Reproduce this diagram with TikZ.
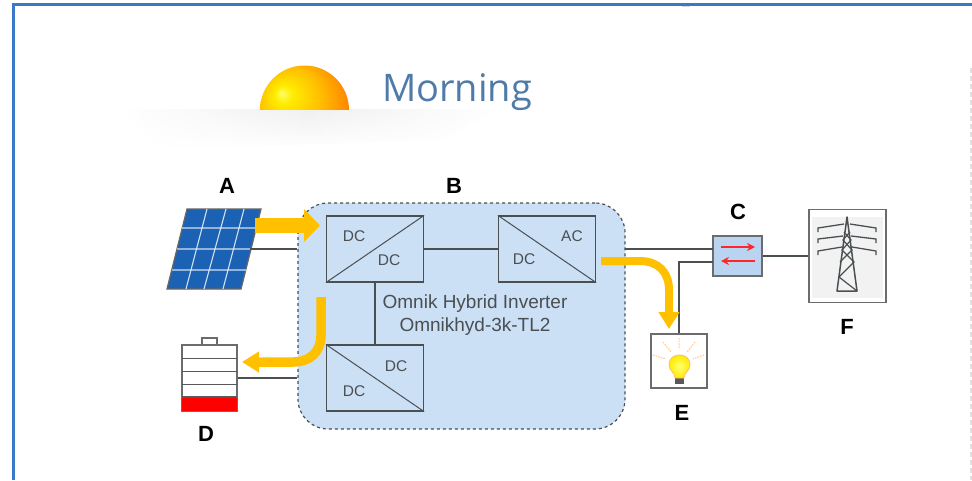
\documentclass[tikz,border=0pt]{standalone}
\usepackage{fontspec}
\setmainfont{Liberation Sans}
\newfontfamily\titlefont{Open Sans}
\usetikzlibrary{arrows.meta,fadings}

\definecolor{framecol}{HTML}{3B78C8}
\definecolor{wirecol}{HTML}{4A4F52}
\definecolor{flowcol}{HTML}{FFC000}
\definecolor{invcol}{HTML}{CBDFF5}
\definecolor{buscol}{HTML}{BAD3F0}
\definecolor{panelcol}{HTML}{1C62B4}
\definecolor{titlecol}{HTML}{4F7BA8}

\tikzfading[name=edgefade, left color=transparent!100, right color=transparent!100, middle color=transparent!0]
\pgfdeclareradialshading{sunball}{\pgfpoint{-13bp}{9.5bp}}{
    color(0bp)=(yellow!60!white); color(5bp)=(yellow!85!orange); color(17bp)=(flowcol);
    color(30bp)=(orange!95!yellow); color(50bp)=(orange)}

\begin{document}
\begin{tikzpicture}[
    x=1pt, y=-1pt,
    conv/.style={rectangle, draw=wirecol, line width=1.2pt, minimum width=97pt, minimum height=66pt, inner sep=0pt},
    wire/.style={draw=wirecol, line width=1.6pt},
    flow/.style={draw=flowcol, -{Triangle[length=17pt,width=20pt]}},
    lbl/.style={font=\fontsize{15.5}{17}\selectfont, text=wirecol, inner sep=0pt},
    letter/.style={font=\fontsize{22}{24}\selectfont\bfseries, text=black, inner sep=0pt},
    iconbox/.style={rectangle, draw=gray!85!black, line width=1.3pt, inner sep=0pt, fill=white},
    tower/.style={draw=wirecol, line width=1.5pt},
]
\useasboundingbox (0,0) rectangle (972,480);

% outer frame
\draw[framecol, line width=3pt] (13,480) -- (13,4.5) -- (972,4.5);
\draw[black!12, line width=1.5pt, dash pattern=on 5pt off 3pt] (971,68) -- (971,480);
\fill[black!15] (682,6) rectangle (690,7);

% sun and horizon
\shade[top color=black!6, bottom color=white, path fading=edgefade] (118,109) -- (500,109) -- (440,140) -- (165,150) -- cycle;
\begin{scope}
\path[clip] (255,60) rectangle (355,109);
\shade[shading=sunball] (304.5,110) circle (44.5);
\end{scope}
\node[font=\titlefont\fontsize{38}{40}\selectfont, text=titlecol, inner sep=0pt, anchor=base] (morning) at (457,101) {Morning};

% inverter
\node[rectangle, rounded corners=30pt, draw=wirecol, fill=invcol, line width=1.2pt, dashed, minimum width=327pt, minimum height=226pt, inner sep=0pt] (inv) at (461.5,316) {};
\node[conv] (dca) at (375,249) {};
\node[conv] (dcb) at (375,378) {};
\node[conv] (dcac) at (547,249) {};
\draw[wirecol, line width=1pt] (dca.south west) -- (dca.north east);
\draw[wirecol, line width=1pt] (dcb.north west) -- (dcb.south east);
\draw[wirecol, line width=1pt] (dcac.north west) -- (dcac.south east);
\node[lbl] (dca1) at (354,236) {DC};
\node[lbl] (dca2) at (389,260) {DC};
\node[lbl] (dcb1) at (396,366) {DC};
\node[lbl] (dcb2) at (354,391) {DC};
\node[lbl] (dcac1) at (572,236) {AC};
\node[lbl] (dcac2) at (524,259) {DC};
\node[lbl, font=\fontsize{19}{23}\selectfont, align=center] (name) at (475,315.5) {Omnik Hybrid Inverter\\Omnikhyd-3k-TL2};
\draw[wire] (dca) -- (dcac);
\draw[wire, line width=2pt] (dca) -- (dcb);

% solar panel
\coordinate (pvr) at (250,249);
\fill[panelcol, draw=gray!80!black, line width=1.3pt] (187,209) -- (261,209) -- (241,289) -- (167,289) -- cycle;
\draw[white!80!panelcol, line width=1.1pt]
    (182,228) -- (256,228) (177,249) -- (251,249) (172,270) -- (246,270)
    (207,209) -- (186,289) (226,209) -- (204,289) (244,209) -- (223,289);
\draw[wire] (pvr) -- (pvr -| inv.west);

% battery
\node[iconbox, minimum width=15pt, minimum height=7pt] (cap) at (209.5,341.5) {};
\node[iconbox, minimum width=55pt, minimum height=66pt] (batt) at (209.5,378) {};
\fill[red] (batt.south west) rectangle (237,397);
\draw[gray!70!black, line width=1.3pt] (182,358.5) -- (237,358.5) (182,371.5) -- (237,371.5) (182,384.5) -- (237,384.5) (182,397) -- (237,397);
\draw[gray!85!black, line width=1.3pt] (batt.north west) rectangle (batt.south east);
\draw[wire] (batt) -- (inv.west |- batt);

% bus box
\node[rectangle, draw=gray!85!black, fill=buscol, line width=1.3pt, minimum width=49pt, minimum height=40pt, inner sep=0pt] (bus) at (737.5,256) {};
\coordinate (busa) at (713,249);
\coordinate (busb) at (713,262);
\coordinate (invr) at (625,249);
\draw[wire] (invr) -- (busa);
\draw[red!85!white, line width=1.5pt, -{Stealth[length=8pt,width=8pt]}] (721,247) -- (755,247);
\draw[red!85!white, line width=1.5pt, -{Stealth[length=8pt,width=8pt]}] (755,261) -- (721,261);

% load
\node[iconbox, minimum width=56pt, minimum height=54pt] (load) at (679,361) {};
\draw[wire] (load.north) |- (busb);
\draw[orange!45, line width=1pt, dash pattern=on 1.5pt off 1.2pt]
    (679,338) -- (679,349) (663,342) -- (671,352) (695,342) -- (687,352)
    (653,355) -- (666,359) (704,355) -- (693,359);
\fill[gray!70!black] (675,377) rectangle (684,384);
\shade[inner color=yellow!55!white, outer color=yellow!85!orange, draw=orange!55, line width=0.8pt] (675,378) .. controls (675,372) and (669,371) .. (669,365) .. controls (669,358) and (674,355) .. (679.5,355) .. controls (685,355) and (690,358) .. (690,365) .. controls (690,371) and (684,372) .. (684,378) -- cycle;

% grid
\node[iconbox, minimum width=77pt, minimum height=93pt] (grid) at (847.5,256) {};
\fill[black!5] (812,217) rectangle (883,298);
\draw[tower, line join=round] (847,217) -- (837,291) -- (857,291) -- cycle;
\draw[tower, line width=1.2pt] (844,232) -- (851,240) -- (842,250) -- (854,262) -- (839,277) -- (857,291)
    (850,232) -- (843,240) -- (852,250) -- (840,262);
\draw[tower, line width=1.3pt] (818,232) -- (818,228) -- (844,224) (818,243) -- (818,239) -- (843,236) (818,255) -- (818,251) -- (842,247)
    (876,232) -- (876,228) -- (850,224) (876,243) -- (876,239) -- (851,236) (876,255) -- (876,251) -- (852,247);
\draw[wire, line width=1.4pt] (bus) -- (grid);

% power flows
\coordinate (pvflow) at (255,225.5);
\coordinate (pvflowend) at (320,225.5);
\coordinate (battflow) at (321,297);
\coordinate (battflowend) at (242,362);
\coordinate (loadflow) at (601,261);
\coordinate (loadflowend) at (669,329);
\draw[flow, line width=15pt, -{Triangle[length=16pt,width=32pt]}] (pvflow) -- (pvflowend);
\draw[flow, line width=9.5pt] (battflow) -- (321,335) .. controls (321,352) and (310,362) .. (293,362) -- (battflowend);
\draw[flow, line width=8pt] (loadflow) -- (640,261) .. controls (658,261) and (669,272) .. (669,290) -- (loadflowend);

% letters
\node[letter] (la) at (227,186) {A};
\node[letter] (lb) at (454,186) {B};
\node[letter] (lc) at (738,212) {C};
\node[letter] (ld) at (206,434) {D};
\node[letter] (le) at (682,413) {E};
\node[letter] (lf) at (847,327) {F};
\end{tikzpicture}
\end{document}
